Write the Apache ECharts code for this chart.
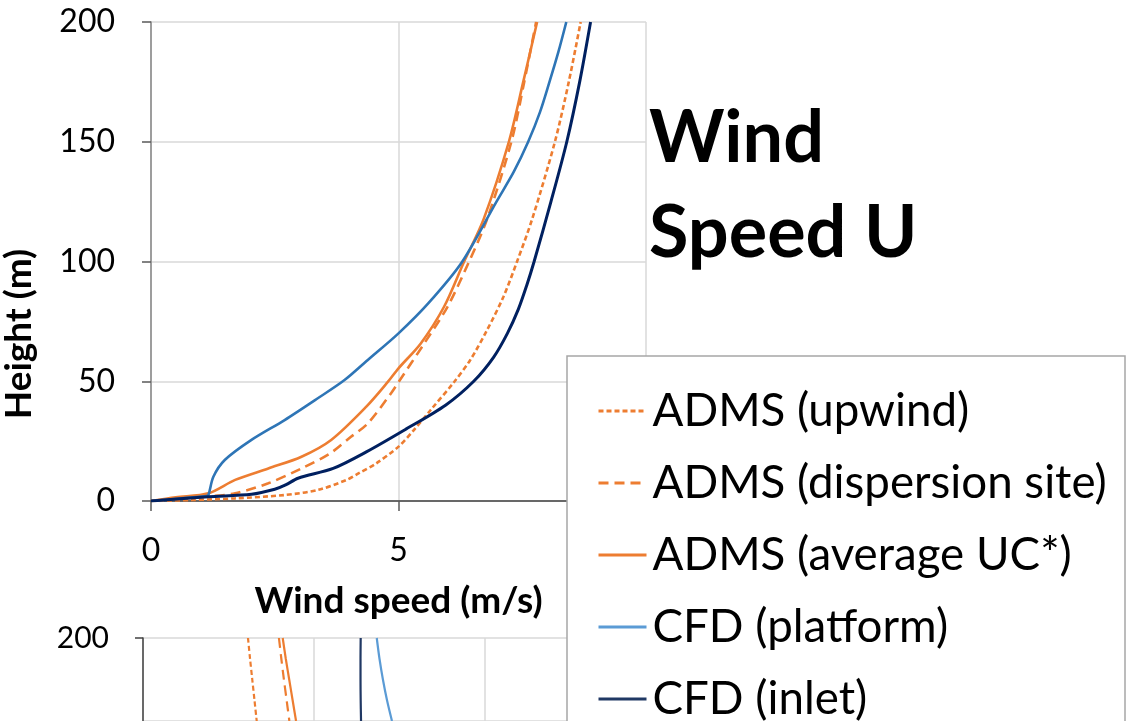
<!DOCTYPE html>
<html>
<head>
<meta charset="utf-8">
<script src="https://cdn.jsdelivr.net/npm/echarts@6/dist/echarts.min.js"></script>
<style>
html,body{margin:0;padding:0;background:#fff;}
#chart{width:1127px;height:721px;}
</style>
</head>
<body>
<div id="chart"></div>
<script>
// ---- Data (top panel: wind speed profiles, height in m vs speed in m/s) ----
const seriesNames = ['ADMS (upwind)', 'ADMS (dispersion site)', 'ADMS (average UC*)', 'CFD (platform)', 'CFD (inlet)'];
const xTicks = [0, 5, 10];
const yTicks = [0, 50, 100, 150, 200];

const upwindH = [0, 0.4, 1.1, 2.5, 4.6, 8.8, 11.6, 15.7, 22.7, 29.6, 38.0, 49.6, 58.9, 71.4, 85.3, 99.7, 117.7, 150, 175, 200];
const upwindU = [0, 0.8, 1.7, 2.7, 3.37, 3.95, 4.2, 4.55, 5.0, 5.31, 5.65, 6.12, 6.45, 6.79, 7.12, 7.39, 7.70, 8.16, 8.44, 8.68];

const dispH = [0, 1.8, 3.2, 7.4, 13.6, 19.9, 26.8, 32.4, 45, 49.6, 65.8, 81.1, 99.7, 117.7, 150, 175, 200];
const dispU = [0, 1.1, 1.7, 2.37, 3.04, 3.62, 4.04, 4.38, 4.85, 5.0, 5.52, 5.99, 6.42, 6.79, 7.28, 7.54, 7.78];

const avgH = [0, 1.5, 3.2, 8.8, 13.6, 18.5, 25.5, 39.4, 49.6, 55.4, 65.8, 81.1, 99.7, 117.7, 150, 175, 200];
const avgU = [0, 0.5, 1.16, 1.7, 2.37, 3.04, 3.64, 4.35, 4.78, 5.0, 5.45, 5.92, 6.32, 6.72, 7.23, 7.52, 7.80];

const platH = [0, 2.1, 2.5, 10.1, 17.1, 25.5, 33.8, 42.9, 50.5, 58.9, 70, 82.5, 99.7, 125, 137.5, 150, 162.5, 175, 187.5, 200];
const platU = [0, 1.12, 1.16, 1.26, 1.49, 2.03, 2.70, 3.37, 3.91, 4.38, 5.0, 5.6, 6.28, 6.98, 7.33, 7.62, 7.86, 8.05, 8.23, 8.39];

const inletH = [0, 1.8, 2.8, 4.9, 6.7, 9.5, 13.6, 20.5, 30, 40, 50, 60, 70, 80, 90, 100, 125, 150, 175, 200];
const inletU = [0, 1.16, 2.03, 2.50, 2.72, 2.97, 3.68, 4.35, 5.15, 5.95, 6.52, 6.92, 7.2, 7.42, 7.59, 7.74, 8.08, 8.40, 8.66, 8.88];

// ---- Data (bottom panel, only its top part is visible) ----
const bottomH = [200, 190, 180, 170, 160];
const bUpwind = [0.614, 0.626, 0.639, 0.652, 0.665];
const bDisp   = [0.795, 0.809, 0.824, 0.840, 0.856];
const bAvg    = [0.817, 0.835, 0.855, 0.875, 0.895];
const bPlat   = [1.367, 1.383, 1.403, 1.427, 1.456];
const bInlet  = [1.273, 1.272, 1.272, 1.273, 1.275];

const pairs = (u, h) => u.map((v, i) => [v, h[i]]);

const ORANGE = '#ED7D31';
const BLUE_TOP = '#2E75B6';
const NAVY_TOP = '#002060';
const BLUE_LIGHT = '#5B9BD5';
const NAVY_LEG = '#203864';
const FONT = 'Lato';

function lineSeries(name, data, color, type, width, axisIdx) {
  return {
    name, type: 'line', data,
    xAxisIndex: axisIdx, yAxisIndex: axisIdx,
    showSymbol: false, symbol: 'none', smooth: 0.3,
    lineStyle: {color, type, width}, itemStyle: {color},
    animation: false, z: 2
  };
}

const series = [
  // bottom panel first so the legend takes its colours
  lineSeries(seriesNames[0], pairs(bUpwind, bottomH), ORANGE, [5, 3], 2.2, 1),
  lineSeries(seriesNames[1], pairs(bDisp, bottomH), ORANGE, [10, 6], 2.2, 1),
  lineSeries(seriesNames[2], pairs(bAvg, bottomH), ORANGE, 'solid', 2.2, 1),
  lineSeries(seriesNames[3], pairs(bPlat, bottomH), BLUE_LIGHT, 'solid', 2.2, 1),
  lineSeries(seriesNames[4], pairs(bInlet, bottomH), NAVY_LEG, 'solid', 2.2, 1),
  // top panel
  lineSeries(seriesNames[0], pairs(upwindU, upwindH), ORANGE, [5, 3], 2.6, 0),
  lineSeries(seriesNames[1], pairs(dispU, dispH), ORANGE, [10, 6], 2.6, 0),
  lineSeries(seriesNames[2], pairs(avgU, avgH), ORANGE, 'solid', 2.6, 0),
  lineSeries(seriesNames[3], pairs(platU, platH), BLUE_TOP, 'solid', 2.6, 0),
  lineSeries(seriesNames[4], pairs(inletU, inletH), NAVY_TOP, 'solid', 3, 0),
];

const chart = echarts.init(document.getElementById('chart'), null, {renderer: 'canvas'});
chart.setOption({
  animation: false,
  backgroundColor: '#fff',
  textStyle: {fontFamily: FONT},
  title: {
    text: 'Wind\nSpeed U',
    left: 644, top: 86,
    textStyle: {fontFamily: FONT, fontWeight: 'bold', fontSize: 72, lineHeight: 95, color: '#000'}
  },
  grid: [
    {left: 149, top: 22, width: 497, height: 479},
    {left: 143, top: 638, width: 513, height: 83}
  ],
  xAxis: [
    {
      gridIndex: 0, type: 'value', min: xTicks[0], max: xTicks[xTicks.length - 1], interval: 5,
      name: 'Wind speed (m/s)', nameLocation: 'middle', nameGap: 82,
      nameTextStyle: {fontFamily: FONT, fontWeight: 'bold', fontSize: 37, color: '#000'},
      axisLine: {show: true, onZero: false, lineStyle: {color: '#404040', width: 1.5}},
      axisTick: {show: true, length: 10, lineStyle: {color: '#595959', width: 1.5}},
      axisLabel: {fontFamily: FONT, fontSize: 32, color: '#000', margin: 34},
      splitLine: {show: true, lineStyle: {color: '#d9d9d9', width: 1.5}}
    },
    {
      gridIndex: 1, type: 'value', min: 0, max: 3, interval: 1,
      axisLine: {show: false},
      axisTick: {show: false},
      axisLabel: {show: false},
      splitLine: {show: true, lineStyle: {color: '#d9d9d9', width: 1.5}}
    }
  ],
  yAxis: [
    {
      gridIndex: 0, type: 'value', min: yTicks[0], max: yTicks[yTicks.length - 1], interval: 50,
      name: 'Height (m)', nameLocation: 'middle', nameGap: 113,
      nameTextStyle: {fontFamily: FONT, fontWeight: 'bold', fontSize: 37, color: '#000', padding: [0, 145, 0, 0]},
      axisLine: {show: true, lineStyle: {color: '#868686', width: 1.5}},
      axisTick: {show: true, length: 9, lineStyle: {color: '#595959', width: 1.5}},
      axisLabel: {fontFamily: FONT, fontSize: 32, color: '#000', margin: 36},
      splitLine: {show: true, lineStyle: {color: '#d9d9d9', width: 1.5}}
    },
    {
      gridIndex: 1, type: 'value', min: 160, max: 200, interval: 40,
      axisLine: {show: true, lineStyle: {color: '#404040', width: 1.5}},
      axisTick: {show: true, length: 8, lineStyle: {color: '#404040', width: 1.5}},
      axisLabel: {fontFamily: FONT, fontSize: 30, color: '#000', margin: 34, showMinLabel: false},
      splitLine: {show: true, lineStyle: {color: '#d9d9d9', width: 1.5}}
    }
  ],
  legend: {
    data: seriesNames,
    orient: 'vertical',
    left: 597, top: 388,
    width: 520, height: 420,
    padding: 0,
    itemWidth: 48, itemHeight: 14,
    itemGap: 26,
    z: 20,
    itemStyle: {opacity: 0},
    lineStyle: {width: 3},
    textStyle: {fontFamily: FONT, fontSize: 45.7, lineHeight: 46, color: '#000', padding: [0, 0, 0, 1]},
    selectedMode: false
  },
  graphic: [{
    type: 'rect', z: 10,
    shape: {x: 567, y: 356, width: 558, height: 400},
    style: {fill: '#fff', stroke: '#a6a6a6', lineWidth: 1.5}
  }],
  series
});
</script>
</body>
</html>
